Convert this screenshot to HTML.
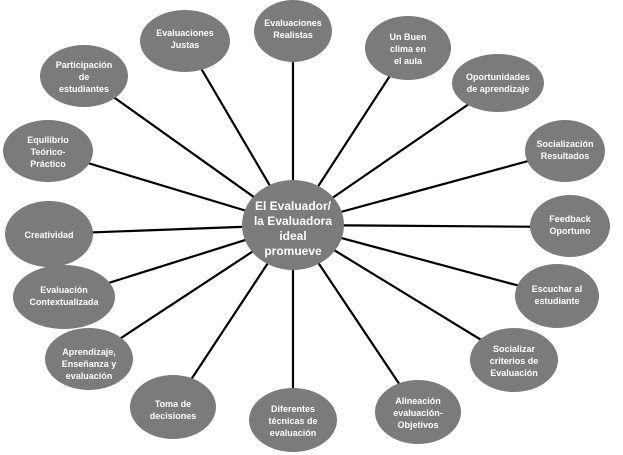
<!DOCTYPE html>
<html><head><meta charset="utf-8"><style>
html,body{margin:0;padding:0;background:#fff;}
svg{display:block}
text{font-family:"Liberation Sans",sans-serif;font-weight:bold;fill:#fff;font-size:9px;text-anchor:middle}
</style></head><body>
<svg width="623" height="455" viewBox="0 0 623 455">
<g stroke="#000" stroke-width="2.2">
<line x1="293" y1="225" x2="293" y2="32"/>
<line x1="293" y1="225" x2="408" y2="48"/>
<line x1="293" y1="225" x2="498" y2="84"/>
<line x1="293" y1="225" x2="565" y2="151"/>
<line x1="293" y1="225" x2="570" y2="227"/>
<line x1="293" y1="225" x2="557" y2="296"/>
<line x1="293" y1="225" x2="514" y2="360"/>
<line x1="293" y1="225" x2="418" y2="412"/>
<line x1="293" y1="225" x2="293" y2="420"/>
<line x1="293" y1="225" x2="173" y2="407"/>
<line x1="293" y1="225" x2="89" y2="359"/>
<line x1="293" y1="225" x2="64" y2="297"/>
<line x1="293" y1="225" x2="49" y2="234"/>
<line x1="293" y1="225" x2="48" y2="151"/>
<line x1="293" y1="225" x2="84" y2="76"/>
<line x1="293" y1="225" x2="185" y2="41"/>
</g>
<g fill="#7b7b7b">
<ellipse cx="293" cy="225" rx="51" ry="45"/>
<ellipse cx="293" cy="31" rx="39" ry="31"/>
<ellipse cx="408" cy="48" rx="43" ry="32"/>
<ellipse cx="498" cy="83" rx="46" ry="29"/>
<ellipse cx="565" cy="151" rx="40" ry="31"/>
<ellipse cx="570" cy="226" rx="40" ry="31"/>
<ellipse cx="557" cy="296" rx="42" ry="32"/>
<ellipse cx="514" cy="360" rx="44" ry="32"/>
<ellipse cx="418" cy="412" rx="43" ry="32"/>
<ellipse cx="293" cy="420" rx="44" ry="32"/>
<ellipse cx="173" cy="407" rx="43" ry="32"/>
<ellipse cx="89" cy="359" rx="44" ry="31"/>
<ellipse cx="64" cy="297" rx="51" ry="32"/>
<ellipse cx="49" cy="234" rx="44" ry="33"/>
<ellipse cx="48" cy="151" rx="45" ry="31"/>
<ellipse cx="84" cy="76" rx="44" ry="31"/>
<ellipse cx="185" cy="41" rx="45" ry="31"/>
</g>
<text x="293" y="210" style="font-size:12px">El Evaluador/</text>
<text x="293" y="225" style="font-size:12px">la Evaluadora</text>
<text x="293" y="240" style="font-size:12px">ideal</text>
<text x="293" y="255" style="font-size:12px">promueve</text>
<text x="293" y="26">Evaluaciones</text><text x="293" y="38">Realistas</text>
<text x="408" y="40">Un Buen</text><text x="408" y="52">clima en</text><text x="408" y="64">el aula</text>
<text x="498" y="80">Oportunidades</text><text x="498" y="92">de aprendizaje</text>
<text x="565" y="147">Socialización</text><text x="565" y="159">Resultados</text>
<text x="570" y="222">Feedback</text><text x="570" y="234">Oportuno</text>
<text x="557" y="292">Escuchar al</text><text x="557" y="304">estudiante</text>
<text x="514" y="352">Socializar</text><text x="514" y="364">criterios de</text><text x="514" y="376">Evaluación</text>
<text x="418" y="404">Alineación</text><text x="418" y="416">evaluación-</text><text x="418" y="428">Objetivos</text>
<text x="293" y="412">Diferentes</text><text x="293" y="424">técnicas de</text><text x="293" y="436">evaluación</text>
<text x="173" y="407">Toma de</text><text x="173" y="419">decisiones</text>
<text x="89" y="355">Aprendizaje,</text><text x="89" y="367">Enseñanza y</text><text x="89" y="379">evaluación</text>
<text x="64" y="293">Evaluación</text><text x="64" y="305">Contextualizada</text>
<text x="49" y="238">Creatividad</text>
<text x="48" y="143">Equilibrio</text><text x="48" y="155">Teórico-</text><text x="48" y="167">Práctico</text>
<text x="84" y="68">Participación</text><text x="84" y="80">de</text><text x="84" y="92">estudiantes</text>
<text x="185" y="36">Evaluaciones</text><text x="185" y="48">Justas</text>
</svg>
</body></html>
